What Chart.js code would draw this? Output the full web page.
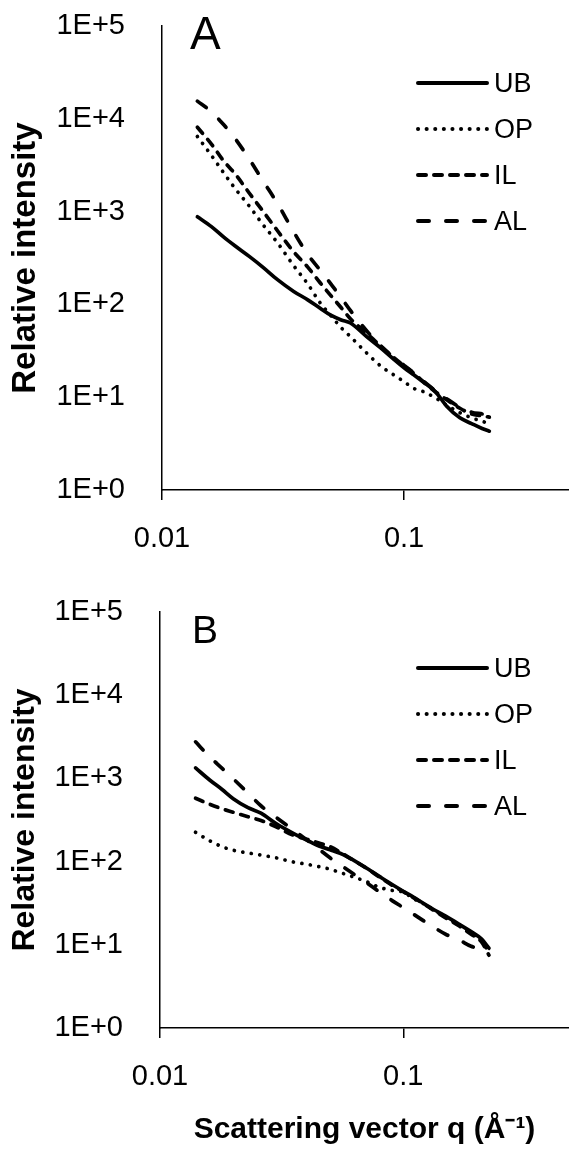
<!DOCTYPE html>
<html lang="en">
<head>
<meta charset="UTF-8">
<title>Relative intensity vs scattering vector</title>
<script src="https://cdn.jsdelivr.net/npm/chart.js"></script>
<style>
  html, body { margin: 0; padding: 0; background: #fff; overflow: hidden; }
  canvas { display: block; }
</style>
</head>
<body>
<canvas id="chartA" width="569" height="575"></canvas>
<canvas id="chartB" width="569" height="576"></canvas>
<script>
  const qValues = [0.014, 0.016, 0.018, 0.02, 0.023, 0.026, 0.03, 0.035, 0.04, 0.045, 0.05, 0.055, 0.06,
                   0.07, 0.08, 0.09, 0.1, 0.11, 0.12, 0.135, 0.15, 0.17, 0.19, 0.21, 0.225];
  const seriesNames = ["UB", "OP", "IL", "AL"];

  // panel A
  const aUB = [880, 689, 530, 428, 327, 254, 185, 138, 112, 91, 76, 68, 63, 45, 34, 26, 20.7, 17.3, 14.6, 11.4, 8.0, 6.0, 5.2, 4.6, 4.3];
  const aOP = [6450, 4030, 2606, 1787, 1135, 735, 461, 261, 166, 104, 75, 56, 45, 30, 21.7, 17.6, 14.7, 12.4, 11.5, 9.8, 8.2, 6.8, 6.0, 5.5, 5.2];
  const aIL = [8100, 5340, 3500, 2566, 1567, 1028, 622, 368, 252, 171, 123, 92, 70, 49, 35.5, 27.2, 21.7, 18.0, 14.7, 11.4, 9.4, 7.6, 6.6, 6.3, 6.1];
  const aAL = [15500, 11900, 8610, 6180, 3640, 2185, 1222, 603, 345, 234, 164, 118, 86, 52, 36, 27, 22, 18.2, 14.9, 11.7, 9.6, 7.8, 6.9, 6.6, 6.4];

  // panel B
  const bUB = [1337, 957, 736, 571, 445, 382, 287, 222, 182, 154, 139, 126, 111, 85, 66, 53, 44, 37.5, 32, 26, 21.9, 17.6, 14.4, 11.7, 9.1];
  const bOP = [225, 178, 151, 137, 127, 120, 111, 99.5, 93, 87, 81, 74, 68, 58, 49, 45, 43, 36, 31.7, 25.7, 21.5, 17.2, 13.8, 11.1, 8.2];
  const bIL = [577, 489, 431, 392, 346, 312, 262, 210, 186, 167, 151, 130, 111, 84.5, 65, 52, 43.5, 36.9, 31.7, 25.4, 20.9, 16.8, 13.4, 10.8, 7.5];
  const bAL = [2750, 1816, 1322, 989, 666, 469, 341, 245, 183, 141, 111, 92, 77, 57, 43, 34, 28, 23.4, 19.8, 15.9, 13.3, 11.4, 9.6, 8.9, 8.2];

  const xTicks = [0.01, 0.1];
  const xTickLabels = ["0.01", "0.1"];
  const yTicks = [1, 10, 100, 1000, 10000, 100000];
  const yTickLabels = ["1E+0", "1E+1", "1E+2", "1E+3", "1E+4", "1E+5"];

  const FONT = "'Liberation Sans', Arial, sans-serif";

  // line look per series: solid, round dot, dash, long dash
  const lineDash = [[], [0.1, 8.5], [8, 8], [11, 17]];

  // panel letter + legend drawn on top of the chart
  const panelDecor = {
    id: "panelDecor",
    afterDraw(chart, args, opts) {
      const ctx = chart.ctx;
      ctx.save();
      ctx.fillStyle = "#000";
      ctx.font = opts.letterSize + "px " + FONT;
      ctx.textBaseline = "alphabetic";
      ctx.fillText(opts.letter, opts.letterX, opts.letterY);

      ctx.font = "27px " + FONT;
      ctx.textBaseline = "middle";
      chart.data.datasets.forEach(function (ds, i) {
        const y = opts.legendY + i * 46;
        ctx.beginPath();
        ctx.setLineDash(ds.borderDash);
        ctx.lineCap = "round";
        ctx.lineWidth = 4;
        ctx.strokeStyle = "#000";
        ctx.moveTo(418, y);
        ctx.lineTo(487, y);
        ctx.stroke();
        ctx.setLineDash([]);
        ctx.fillText(ds.label, 494, y + 2);
      });
      ctx.restore();
    }
  };

  function makeChart(id, values, p) {
    const datasets = seriesNames.map(function (name, i) {
      return {
        label: name,
        data: qValues.map(function (q, k) { return { x: q, y: values[i][k] }; }),
        borderColor: "#000",
        borderWidth: 3.7,
        borderDash: lineDash[i],
        borderCapStyle: "round",
        borderJoinStyle: "round",
        pointRadius: 0,
        cubicInterpolationMode: "monotone",
        fill: false
      };
    });

    return new Chart(document.getElementById(id), {
      type: "line",
      data: { datasets: datasets },
      plugins: [panelDecor],
      options: {
        responsive: false,
        animation: false,
        devicePixelRatio: 1,
        layout: { padding: { top: p.top, left: 0, right: 0, bottom: 0 } },
        plugins: {
          legend: { display: false },
          tooltip: { enabled: false },
          panelDecor: {
            letter: p.letter, letterX: p.letterX, letterY: p.letterY, letterSize: p.letterSize,
            legendY: p.legendY
          }
        },
        scales: {
          x: {
            type: "logarithmic",
            min: 0.01,
            max: 0.48,
            afterBuildTicks: function (s) { s.ticks = xTicks.map(function (v) { return { value: v }; }); },
            afterFit: function (s) { s.height = p.xHeight; },
            ticks: {
              autoSkip: false, maxRotation: 0, color: "#000", padding: 22,
              font: { family: FONT, size: 29 },
              callback: function (v, i) { return xTickLabels[i]; }
            },
            grid: { drawOnChartArea: false, drawTicks: true, tickLength: 10, color: "#000", lineWidth: 1.5 },
            border: { display: true, color: "#000", width: 1.5 },
            title: {
              display: p.xTitle,
              text: "Scattering vector q (Å⁻¹)",
              color: "#000",
              font: { family: FONT, size: 30, weight: "bold" },
              padding: { top: 0, bottom: 3 }
            }
          },
          y: {
            type: "logarithmic",
            min: 1,
            max: 100000,
            afterBuildTicks: function (s) { s.ticks = yTicks.map(function (v) { return { value: v }; }); },
            afterFit: function (s) { s.width = p.left; },
            ticks: {
              autoSkip: false, color: "#000", padding: 3,
              font: { family: FONT, size: 29 },
              callback: function (v, i) { return yTickLabels[i]; }
            },
            // invisible tick marks only push the labels away from the axis
            grid: { drawOnChartArea: false, drawTicks: true, tickLength: 34, tickColor: "rgba(0,0,0,0)" },
            border: { display: true, color: "#000", width: 1.5 },
            title: {
              display: true,
              text: "Relative intensity",
              color: "#000",
              font: { family: FONT, size: p.yTitleSize, weight: "bold" },
              padding: { top: 6, bottom: 0 }
            }
          }
        }
      }
    });
  }

  makeChart("chartA", [aUB, aOP, aIL, aAL], {
    top: 26, left: 162, xHeight: 85, xTitle: false, yTitleSize: 33,
    letter: "A", letterX: 190, letterY: 49, letterSize: 46, legendY: 83
  });
  makeChart("chartB", [bUB, bOP, bIL, bAL], {
    top: 37, left: 160, xHeight: 123, xTitle: true, yTitleSize: 32,
    letter: "B", letterX: 192, letterY: 68, letterSize: 39, legendY: 93
  });
</script>
</body>
</html>
